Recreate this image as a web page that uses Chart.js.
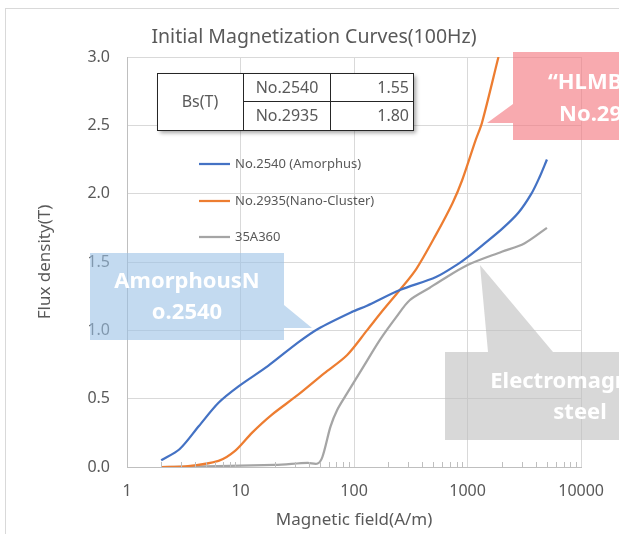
<!DOCTYPE html>
<html><head><meta charset="utf-8">
<script src="https://cdn.jsdelivr.net/npm/chart.js@4/dist/chart.umd.min.js"></script>
<style>html,body{margin:0;padding:0;background:#fff;overflow:hidden}canvas{display:block}</style>
</head><body>
<canvas id="c" width="619" height="534"></canvas>
<script>
// ---- data ----
const titleText = 'Initial Magnetization Curves(100Hz)';
const xAxisTitle = 'Magnetic field(A/m)';
const yAxisTitle = 'Flux density(T)';
const xTickValues = [1, 10, 100, 1000, 10000];
const yTickStep = 0.5;
const seriesNames = ['No.2540 (Amorphus)', 'No.2935(Nano-Cluster)', '35A360'];
const seriesColors = ['#4472C4', '#ED7D31', '#A5A5A5'];

const h2540 = [2, 2.9, 4.3, 6.4, 9.6, 17.5, 32, 48, 96, 130, 253, 527, 840, 1000, 1340, 2000, 2800, 3650, 4300, 5000];
const b2540 = [0.05, 0.13, 0.30, 0.47, 0.59, 0.74, 0.91, 1.01, 1.135, 1.18, 1.295, 1.39, 1.49, 1.535, 1.62, 1.74, 1.86, 2.0, 2.12, 2.25];

const h2935 = [2, 3.3, 6.4, 9, 12.6, 18.7, 32, 54.5, 87, 130, 181, 253, 354, 527, 736, 897, 1175, 1340, 1870];
const b2935 = [0.0, 0.005, 0.045, 0.12, 0.25, 0.38, 0.527, 0.685, 0.82, 1.0, 1.15, 1.295, 1.45, 1.70, 1.93, 2.10, 2.39, 2.52, 3.0];

const h35A360 = [2, 20, 39, 47.7, 52.7, 62, 71, 87, 121, 169, 237, 309, 461, 562, 1000, 2000, 3160, 5000];
const b35A360 = [0.0, 0.015, 0.03, 0.025, 0.075, 0.295, 0.417, 0.54, 0.734, 0.93, 1.10, 1.22, 1.31, 1.356, 1.478, 1.575, 1.636, 1.75];

const tableRowLabel = 'Bs(T)';
const tableGrades = ['No.2540', 'No.2935'];
const tableBs = ['1.55', '1.80'];

const calloutBlue = ['AmorphousN', 'o.2540'];
const calloutPink = ['“HLMB”', 'No.2935”'];
const calloutGray = ['Electromagnetic', 'steel'];

// ---- build ----
const toXY = (hs, bs) => hs.map((h, i) => ({x: h, y: bs[i]}));
const FONT = '"Noto Sans", "Open Sans", sans-serif';
const TXT = '#595959';

const decorPlugin = {
  id: 'decor',
  beforeDraw(chart) {
    const ctx = chart.ctx;
    ctx.save();
    ctx.fillStyle = '#fff';
    ctx.fillRect(0, 0, chart.width, chart.height);
    ctx.strokeStyle = '#d9d9d9';
    ctx.lineWidth = 1;
    ctx.strokeRect(5.5, 8.5, 700, 600);
    ctx.fillStyle = TXT;
    ctx.font = '19.5px ' + FONT;
    ctx.textAlign = 'center';
    ctx.textBaseline = 'middle';
    ctx.fillText(titleText, 314, 37);
    ctx.restore();
  },
  afterDraw(chart) {
    const ctx = chart.ctx;
    const xs = chart.scales.x, ca = chart.chartArea;
    ctx.save();
    // minor ticks
    ctx.strokeStyle = '#bfbfbf';
    ctx.lineWidth = 1;
    for (let d = 1; d < 10000; d *= 10) {
      for (let m = 2; m <= 9; m++) {
        const px = Math.round(xs.getPixelForValue(d * m)) + 0.5;
        ctx.beginPath(); ctx.moveTo(px, ca.bottom); ctx.lineTo(px, ca.bottom - 5); ctx.stroke();
      }
    }
    // callouts
    function callout(color, pts, lines, cx, y1, y2, align) {
      ctx.fillStyle = color;
      ctx.beginPath();
      pts.forEach((p, i) => i ? ctx.lineTo(p[0], p[1]) : ctx.moveTo(p[0], p[1]));
      ctx.closePath();
      ctx.fill();
      ctx.fillStyle = '#fff';
      ctx.font = 'bold 22px ' + FONT;
      ctx.textAlign = align;
      ctx.textBaseline = 'middle';
      ctx.fillText(lines[0], cx[0], y1);
      ctx.fillText(lines[1], cx[1], y2);
    }
    callout('rgba(155,194,230,0.6)',
      [[90,253],[284,253],[284,305],[312,328],[284,328],[284,340],[90,340]],
      calloutBlue, [187,187], 282, 313, 'center');
    callout('rgba(244,118,126,0.62)',
      [[513,52],[700,52],[700,140],[513,140],[513,123],[487,123],[513,104]],
      calloutPink, [548,559], 83, 115, 'left');
    callout('rgba(190,190,190,0.6)',
      [[445,352],[488,352],[480,265],[553,352],[700,352],[700,440],[445,440]],
      calloutGray, [580,580], 382, 413, 'center');
    // table
    ctx.save();
    ctx.shadowColor = 'rgba(0,0,0,0.35)';
    ctx.shadowBlur = 4; ctx.shadowOffsetX = 2; ctx.shadowOffsetY = 2;
    ctx.fillStyle = '#fff';
    ctx.fillRect(157.5, 73.5, 256, 57);
    ctx.restore();
    ctx.strokeStyle = '#262626';
    ctx.lineWidth = 1;
    ctx.strokeRect(157.5, 73.5, 256, 57);
    ctx.beginPath();
    ctx.moveTo(243.5, 73.5); ctx.lineTo(243.5, 130.5);
    ctx.moveTo(330.5, 73.5); ctx.lineTo(330.5, 130.5);
    ctx.moveTo(243.5, 101.5); ctx.lineTo(413.5, 101.5);
    ctx.stroke();
    ctx.fillStyle = TXT;
    ctx.font = '16px ' + FONT;
    ctx.textBaseline = 'middle';
    ctx.textAlign = 'center';
    ctx.fillText(tableRowLabel, 200, 102);
    ctx.fillText(tableGrades[0], 287, 88);
    ctx.fillText(tableGrades[1], 287, 116);
    ctx.textAlign = 'right';
    ctx.fillText(tableBs[0], 409, 88);
    ctx.fillText(tableBs[1], 409, 116);
    // legend
    const ly = [164, 201, 237];
    ctx.font = '13px ' + FONT;
    ctx.textAlign = 'left';
    seriesNames.forEach((n, i) => {
      ctx.strokeStyle = seriesColors[i];
      ctx.lineWidth = 2.25;
      ctx.beginPath(); ctx.moveTo(199, ly[i]); ctx.lineTo(230, ly[i]); ctx.stroke();
      ctx.fillStyle = TXT;
      ctx.fillText(n, 235, ly[i]);
    });
    ctx.restore();
  }
};

const mk = (i, hs, bs) => ({
  label: seriesNames[i], data: toXY(hs, bs),
  borderColor: seriesColors[i], backgroundColor: seriesColors[i],
  borderWidth: 2.25, pointRadius: 0, tension: 0.3, fill: false
});

new Chart(document.getElementById('c'), {
  type: 'line',
  data: { datasets: [mk(0, h2540, b2540), mk(1, h2935, b2935), mk(2, h35A360, b35A360)] },
  plugins: [decorPlugin],
  options: {
    responsive: false, animation: false, devicePixelRatio: 1,
    layout: { padding: { left: 0, right: 33, top: 57, bottom: 0 } },
    plugins: { legend: { display: false }, tooltip: { enabled: false }, title: { display: false } },
    scales: {
      x: {
        type: 'logarithmic', min: 1, max: 10000,
        afterBuildTicks: s => { s.ticks = xTickValues.map(v => ({ value: v })); },
        afterFit: s => { s.height = 67; },
        ticks: { color: TXT, font: { family: FONT, size: 16 }, padding: 15, maxRotation: 0,
                 callback: v => String(v) },
        grid: { color: '#d9d9d9', drawTicks: false },
        border: { color: '#bfbfbf' },
        title: { display: true, text: xAxisTitle, color: TXT, font: { family: FONT, size: 17 }, padding: { top: 0, bottom: 4 } }
      },
      y: {
        min: 0, max: 3,
        afterFit: s => { s.width = 127; },
        ticks: { stepSize: yTickStep, color: TXT, font: { family: FONT, size: 16 }, padding: 17,
                 callback: v => Number(v).toFixed(1) },
        grid: { color: '#d9d9d9', drawTicks: false },
        border: { color: '#bfbfbf' },
        title: { display: true, text: yAxisTitle, color: TXT, font: { family: FONT, size: 17 }, padding: { top: 35, bottom: 0 } }
      }
    }
  }
});
</script>
</body></html>
